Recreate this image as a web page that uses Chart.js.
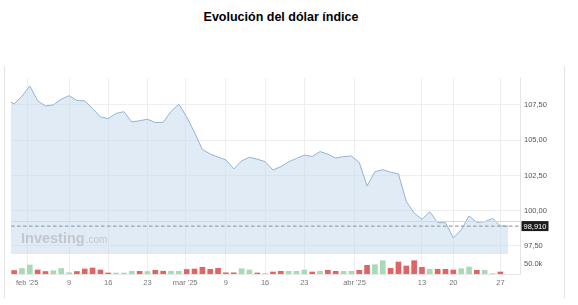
<!DOCTYPE html>
<html>
<head>
<meta charset="utf-8">
<script src="https://cdn.jsdelivr.net/npm/chart.js@4.4.1/dist/chart.umd.min.js"></script>
<style>
  html, body { margin: 0; padding: 0; background: #fff; }
  body { width: 578px; height: 305px; position: relative; overflow: hidden; font-family: 'Liberation Sans', Arial, sans-serif; }
  #title { position: absolute; top: 10px; left: 0; width: 562px; text-align: center; font-weight: bold; font-size: 12.5px; color: #000; }
  #frame { position: absolute; left: 4px; top: 66px; width: 559px; height: 232px; border-left: 1px solid #e4e4e4; border-right: 1px solid #e4e4e4; }
  #wrap { position: absolute; left: 4px; top: 75px; width: 560px; height: 225px; }
</style>
</head>
<body>
<div id="title">Evolución del dólar índice</div>
<div id="frame"></div>
<div id="wrap"><canvas id="chart" width="560" height="225"></canvas></div>
<script>
// cierre diario del índice (primer punto = día -1, fuera del área visible)
const firstDay = -1;
const priceValues = [
  107.9, 107.57, 108.12, 108.85, 107.78, 107.43, 107.5, 107.9, 108.16, 107.82,
  107.78, 107.25, 106.65, 106.53, 106.9, 107.02, 106.29, 106.38, 106.49, 106.25,
  106.27, 107.04, 107.55, 106.65, 105.55, 104.34, 104.02, 103.8, 103.6, 102.96,
  103.53, 103.79, 103.65, 103.48, 102.89, 103.12, 103.46, 103.71, 103.94, 103.85,
  104.19, 104.01, 103.73, 103.84, 103.88, 103.42, 101.76, 102.77, 102.91, 102.73,
  102.61, 100.66, 99.84, 99.39, 99.93, 99.15, 99.15, 98.07, 98.63, 99.63,
  99.17, 99.22, 99.45, 98.92, 98.91
];

// volumen en miles, u = sube, d = baja
const volumes = [
  17.5, 27.5, 45, 20, 12.5, 16.5, 27.5, 6.5, 12.5, 25,
  30, 20, 5, 5, 5, 13.5, 13.5, 12.5, 18.5, 14,
  14, 14, 22.5, 25, 33.5, 23.5, 28.5, 6, 6, 26.5,
  20, 5, 0, 10, 13.5, 13.5, 13.5, 20, 10, 13.5,
  18.5, 13.5, 13.5, 13.5, 18.5, 43.5, 46.5, 66.5, 28.5, 60,
  40, 66.5, 33.5, 23.5, 23.5, 23.5, 20, 26.5, 35, 18.5,
  18.5, 0, 10
];
const volumeDir = ('duudduuudd' + 'ddduuududd' + 'uudddddddu' +
  'udddduuudu' + 'dduudduudd' + 'ddduddduud' + 'udd').split('');

const priceTicks = [97.5, 100, 102.5, 105, 107.5];
const volumeTicks = [50];
const xTickPos = [1.66, 7, 12, 17, 21.8, 27, 32, 37, 43.4, 52, 56, 62];
const xTickLabels = ["feb '25", '9', '16', '23', "mar '25", '9', '16', '23', "abr '25", '13', '20', '27'];

const lastPrice = 98.91;
const prevClose = 99.24;

Chart.defaults.font.family = "'Liberation Sans', Arial, sans-serif";

function noPad(s) {
  s.paddingLeft = 0;
  s.paddingRight = 0;
  s.paddingTop = 0;
  s.paddingBottom = 0;
}

const overlay = {
  id: 'overlay',
  afterDatasetsDraw(chart) {
    const { ctx, chartArea: a, scales: { y } } = chart;
    ctx.save();

    // marca de agua
    ctx.fillStyle = '#c3c8cf';
    ctx.textBaseline = 'alphabetic';
    ctx.font = "bold 14.5px 'Liberation Sans'";
    const wx = a.left + 10, wy = y.bottom - 11;
    ctx.fillText('Investing', wx, wy);
    const w = ctx.measureText('Investing').width;
    ctx.font = "10px 'Liberation Sans'";
    ctx.fillText('.com', wx + w + 1, wy);

    // cierre anterior
    const py = Math.round(y.getPixelForValue(prevClose)) + 0.5;
    ctx.strokeStyle = '#f4caca';
    ctx.lineWidth = 1;
    ctx.beginPath();
    ctx.moveTo(a.left, py);
    ctx.lineTo(a.right, py);
    ctx.stroke();

    // último precio
    const ly = y.getPixelForValue(lastPrice);
    ctx.strokeStyle = '#98a3ae';
    ctx.lineWidth = 1.3;
    ctx.setLineDash([3.5, 2.5]);
    ctx.beginPath();
    ctx.moveTo(a.left, ly);
    ctx.lineTo(a.right, ly);
    ctx.stroke();
    ctx.setLineDash([]);

    ctx.fillStyle = '#1c1c1c';
    ctx.fillRect(a.right + 1.5, ly - 5, 27, 10);
    ctx.fillStyle = '#fff';
    ctx.font = "7.5px 'Liberation Sans'";
    ctx.textBaseline = 'middle';
    ctx.fillText(lastPrice.toFixed(3).replace('.', ','), a.right + 3.5, ly + 0.5);
    ctx.restore();
  }
};

new Chart(document.getElementById('chart'), {
  type: 'bar',
  data: {
    datasets: [
      {
        type: 'line',
        data: priceValues.map((v, i) => ({ x: i + firstDay, y: v })),
        borderColor: '#93b4d2',
        borderWidth: 1,
        backgroundColor: 'rgba(196, 216, 236, 0.5)',
        fill: 'start',
        pointRadius: 0,
        tension: 0,
        yAxisID: 'y'
      },
      {
        type: 'bar',
        data: volumes.map((v, i) => ({ x: i, y: v })),
        backgroundColor: volumeDir.map(d => d === 'u' ? '#a9dab7' : '#e06464'),
        barThickness: 5,
        yAxisID: 'yv'
      }
    ]
  },
  options: {
    responsive: false,
    devicePixelRatio: 1,
    animation: false,
    layout: { padding: { left: 7, top: 3, right: 0, bottom: 0 } },
    plugins: {
      legend: { display: false },
      tooltip: { enabled: false }
    },
    scales: {
      x: {
        type: 'linear',
        offset: false,
        min: -0.4,
        max: 64.5,
        afterBuildTicks: s => { s.ticks = xTickPos.map(v => ({ value: v })); },
        afterFit: s => { s.height = 26; noPad(s); },
        ticks: {
          callback: (v, i) => xTickLabels[i],
          autoSkip: false,
          maxRotation: 0,
          padding: 4,
          color: '#777',
          font: { size: 7.5 }
        },
        grid: { color: '#eeeeee', drawTicks: false, offset: false },
        border: { color: '#e8e8e8' }
      },
      y: {
        type: 'linear',
        position: 'right',
        stack: 'r',
        stackWeight: 176,
        min: 96.93,
        max: 109.41,
        afterBuildTicks: s => { s.ticks = priceTicks.map(v => ({ value: v })); },
        afterFit: s => { s.width = 44; noPad(s); },
        ticks: {
          callback: v => v.toFixed(2).replace('.', ','),
          padding: 4,
          color: '#555',
          font: { size: 7.5 }
        },
        grid: { color: '#efefef', drawTicks: false },
        border: { color: '#e4e4e4' }
      },
      yv: {
        type: 'linear',
        position: 'right',
        stack: 'r',
        stackWeight: 20,
        min: 0,
        max: 100,
        afterBuildTicks: s => { s.ticks = volumeTicks.map(v => ({ value: v })); },
        afterFit: s => { s.width = 44; noPad(s); },
        ticks: {
          callback: v => v.toFixed(1) + 'k',
          padding: 4,
          color: '#555',
          font: { size: 7.5 }
        },
        grid: { display: false, drawTicks: false },
        border: { color: '#e4e4e4' }
      }
    }
  },
  plugins: [overlay]
});
</script>
</body>
</html>
